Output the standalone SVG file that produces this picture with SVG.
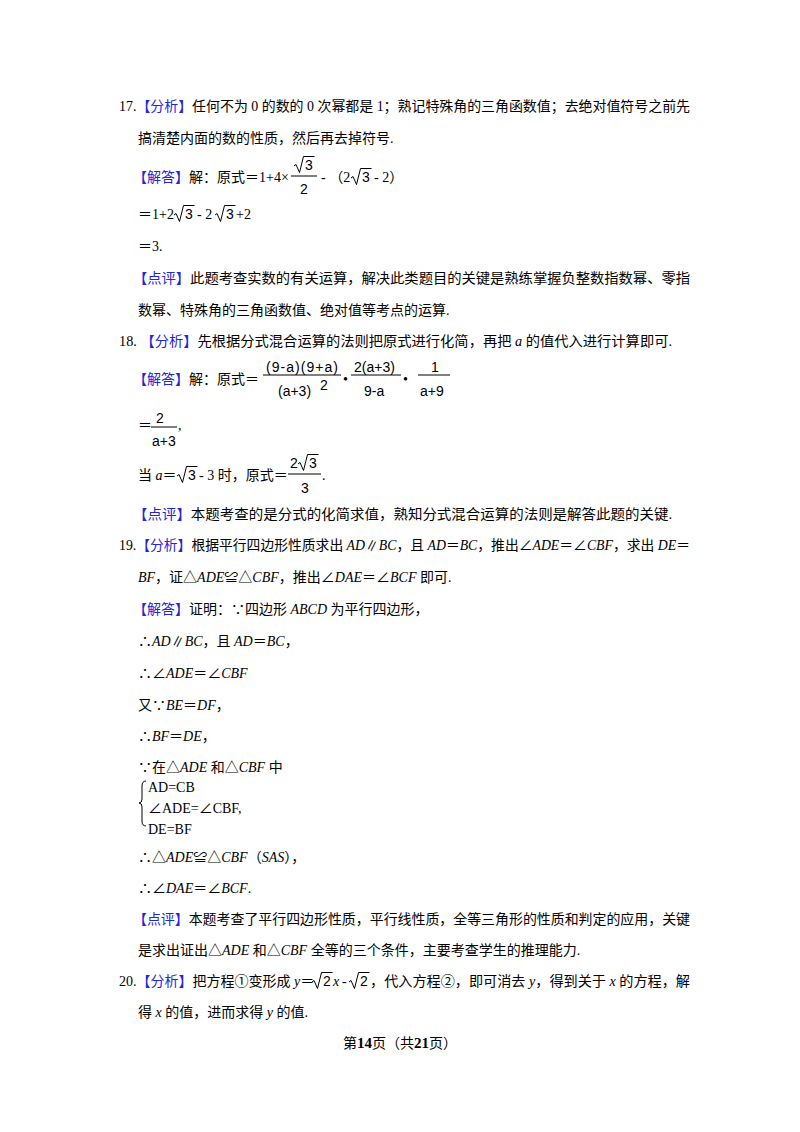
<svg xmlns="http://www.w3.org/2000/svg" width="800" height="1132" viewBox="0 0 800 1132">
<style>
text{font-family:"Liberation Serif","Noto Sans CJK SC",serif;font-size:14px;fill:#000}
.b{fill:#2424d8}
.i{font-style:italic}
.s{font-family:"Liberation Sans","Noto Sans CJK SC",sans-serif;font-size:14px}
.ln{stroke:#000;stroke-width:1;fill:none}
</style>
<defs>
<path id="rad" class="ln" d="M0 -5l2 -1.5l3.5 8l4 -16h11"/>
</defs>
<rect width="800" height="1132" fill="#fff"/>
<g id="q17">
<text x="119" y="111" textLength="571" lengthAdjust="spacingAndGlyphs">17.<tspan class="b">【分析】</tspan>任何不为 0 的数的 0 次幂都是 1；熟记特殊角的三角函数值；去绝对值符号之前先</text>
<text x="138" y="143">搞清楚内面的数的性质，然后再去掉符号.</text>
<text x="133" y="182"><tspan class="b">【解答】</tspan>解：原式＝1+4×</text>
<use href="#rad" x="294" y="171"/><text class="s" x="305" y="170">3</text><path class="ln" d="M291 176h26"/>
<text class="s" x="300" y="194">2</text>
<text x="321" y="182">- （2</text><use href="#rad" x="351" y="183"/><text class="s" x="362" y="182">3</text><text x="374" y="182">- 2）</text>
<text x="138" y="219">＝1+2</text><use href="#rad" x="174" y="220"/><text class="s" x="185" y="219">3</text>
<text x="197" y="219">- 2</text><use href="#rad" x="215" y="220"/><text class="s" x="226" y="219">3</text><text x="236" y="219">+2</text>
<text x="138" y="251">＝3.</text>
<text x="133" y="283" textLength="557" lengthAdjust="spacingAndGlyphs"><tspan class="b">【点评】</tspan>此题考查实数的有关运算，解决此类题目的关键是熟练掌握负整数指数幂、零指</text>
<text x="138" y="315">数幂、特殊角的三角函数值、绝对值等考点的运算.</text>
</g>
<g id="q18">
<text x="119" y="346" textLength="553" lengthAdjust="spacingAndGlyphs">18. <tspan class="b">【分析】</tspan>先根据分式混合运算的法则把原式进行化简，再把 <tspan class="i">a</tspan> 的值代入进行计算即可.</text>
<text x="133" y="384"><tspan class="b">【解答】</tspan>解：原式＝</text>
<text class="s" x="266" y="372" textLength="72">(9-a)(9+a)</text><text class="s" x="278" y="396">(a+3)</text><text class="s" x="320" y="390" font-size="11">2</text>
<path class="ln" d="M263 375h78"/>
<text x="343" y="384">•</text>
<text class="s" x="354" y="372">2(a+3)</text><text class="s" x="364" y="396">9-a</text><path class="ln" d="M351 375h50"/>
<text x="403" y="384">•</text>
<text class="s" x="431" y="372">1</text><text class="s" x="420" y="396">a+9</text><path class="ln" d="M418 375h32"/>
<text x="138" y="430">＝</text><text class="s" x="156" y="423">2</text><text class="s" x="152" y="446">a+3</text><path class="ln" d="M151 427h26"/><text x="178" y="430">,</text>
<text x="138" y="480">当 <tspan class="i">a</tspan>＝</text><use href="#rad" x="177" y="481"/><text class="s" x="188" y="480">3</text><text x="199" y="480">- 3 时，原式＝</text>
<text class="s" x="290" y="468">2</text><use href="#rad" x="298" y="469"/><text class="s" x="309" y="468">3</text><path class="ln" d="M288 474h33"/>
<text class="s" x="301" y="493">3</text><text x="322" y="480">.</text>
<text x="133" y="519" textLength="539" lengthAdjust="spacingAndGlyphs"><tspan class="b">【点评】</tspan>本题考查的是分式的化简求值，熟知分式混合运算的法则是解答此题的关键.</text>
</g>
<g id="q19">
<text x="119" y="550" textLength="571" lengthAdjust="spacingAndGlyphs">19.<tspan class="b">【分析】</tspan>根据平行四边形性质求出 <tspan class="i">AD</tspan>∥<tspan class="i">BC</tspan>，且 <tspan class="i">AD</tspan>＝<tspan class="i">BC</tspan>，推出∠<tspan class="i">ADE</tspan>＝∠<tspan class="i">CBF</tspan>，求出 <tspan class="i">DE</tspan>＝</text>
<text x="138" y="582"><tspan class="i">BF</tspan>，证△<tspan class="i">ADE</tspan>≌△<tspan class="i">CBF</tspan>，推出∠<tspan class="i">DAE</tspan>＝∠<tspan class="i">BCF</tspan> 即可.</text>
<text x="133" y="614"><tspan class="b">【解答】</tspan>证明：∵四边形 <tspan class="i">ABCD</tspan> 为平行四边形，</text>
<text x="138" y="646">∴<tspan class="i">AD</tspan>∥<tspan class="i">BC</tspan>，且 <tspan class="i">AD</tspan>＝<tspan class="i">BC</tspan>，</text>
<text x="138" y="678">∴∠<tspan class="i">ADE</tspan>＝∠<tspan class="i">CBF</tspan></text>
<text x="138" y="710">又∵<tspan class="i">BE</tspan>＝<tspan class="i">DF</tspan>，</text>
<text x="138" y="741">∴<tspan class="i">BF</tspan>＝<tspan class="i">DE</tspan>，</text>
<text x="138" y="772">∵在△<tspan class="i">ADE</tspan> 和△<tspan class="i">CBF</tspan> 中</text>
<path class="ln" d="M146 781q-4 0-4 5v13q0 4-3 4q3 0 3 4v14q0 5 4 5"/>
<text x="148" y="792">AD=CB</text>
<text x="148" y="813">∠ADE=∠CBF,</text>
<text x="148" y="834">DE=BF</text>
<text x="138" y="862">∴△<tspan class="i">ADE</tspan>≌△<tspan class="i">CBF</tspan>（<tspan class="i">SAS</tspan>），</text>
<text x="138" y="893">∴∠<tspan class="i">DAE</tspan>＝∠<tspan class="i">BCF</tspan>.</text>
<text x="133" y="924" textLength="557" lengthAdjust="spacingAndGlyphs"><tspan class="b">【点评】</tspan>本题考查了平行四边形性质，平行线性质，全等三角形的性质和判定的应用，关键</text>
<text x="138" y="955">是求出证出△<tspan class="i">ADE</tspan> 和△<tspan class="i">CBF</tspan> 全等的三个条件，主要考查学生的推理能力.</text>
</g>
<g id="q20">
<text x="119" y="986">20.<tspan class="b">【分析】</tspan>把方程①变形成 <tspan class="i">y</tspan>＝</text>
<use href="#rad" x="312" y="987"/><text class="s" x="323" y="986">2</text><text class="i" x="333" y="986">x</text><text x="342" y="986">-</text>
<use href="#rad" x="349" y="987"/><text class="s" x="360" y="986">2</text>
<text x="370" y="986" textLength="320" lengthAdjust="spacingAndGlyphs">，代入方程②，即可消去 <tspan class="i">y</tspan>，得到关于 <tspan class="i">x</tspan> 的方程，解</text>
<text x="138" y="1017">得 <tspan class="i">x</tspan> 的值，进而求得 <tspan class="i">y</tspan> 的值.</text>
</g>
<text x="400" y="1048" text-anchor="middle" font-size="13">第<tspan font-weight="bold" font-size="15">14</tspan>页（共<tspan font-weight="bold" font-size="15">21</tspan>页）</text>
</svg>
